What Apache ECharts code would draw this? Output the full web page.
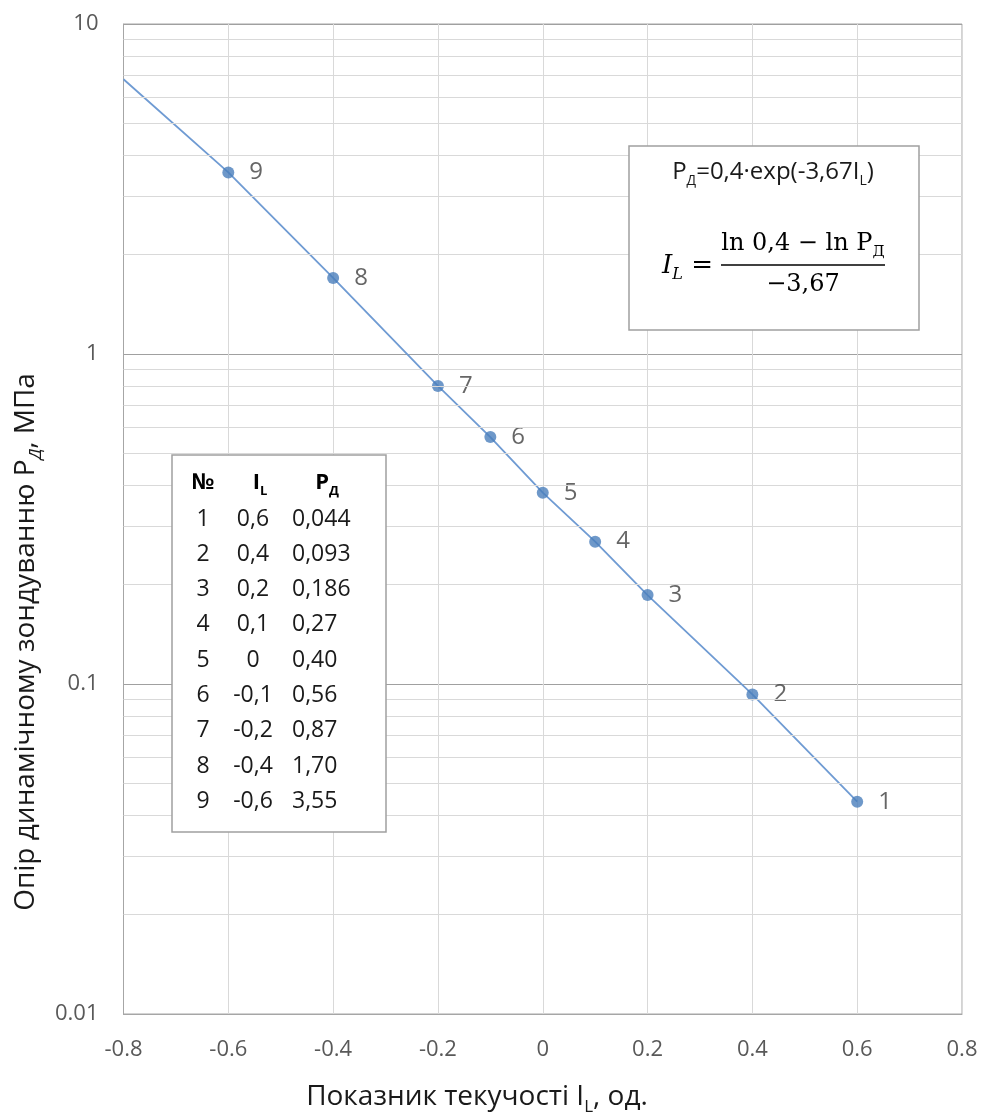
<!DOCTYPE html>
<html>
<head>
<meta charset="utf-8">
<script src="https://cdn.jsdelivr.net/npm/echarts@6/dist/echarts.min.js"></script>
<style>
  html, body { margin: 0; padding: 0; background: #fff; }
  #chart { width: 982px; height: 1113px; }
</style>
</head>
<body>
<div id="chart"></div>
<script>
// точки, як вони нанесені на графік
var il = [0.6, 0.4, 0.2, 0.1, 0, -0.1, -0.2, -0.4, -0.6]
var pd = [0.044, 0.093, 0.186, 0.27, 0.38, 0.56, 0.80, 1.70, 3.55]
var pointNo = ['1', '2', '3', '4', '5', '6', '7', '8', '9']
// початок лінії біля лівого краю
var lineStart = [-0.8, 6.8]

// таблиця у вставці (текст)
var tabNo = ['1', '2', '3', '4', '5', '6', '7', '8', '9']
var tabIL = ['0,6', '0,4', '0,2', '0,1', '0', '-0,1', '-0,2', '-0,4', '-0,6']
var tabPD = ['0,044', '0,093', '0,186', '0,27', '0,40', '0,56', '0,87', '1,70', '3,55']

var yMinor = [0.02, 0.03, 0.04, 0.05, 0.06, 0.07, 0.08, 0.09,
  0.2, 0.3, 0.4, 0.5, 0.6, 0.7, 0.8, 0.9,
  2, 3, 4, 5, 6, 7, 8, 9]

var FONT = 'Open Sans'
var SERIF = 'DejaVu Serif'
var Z = 100

var chart = echarts.init(document.getElementById('chart'))

var lineData = [lineStart].concat(il.map(function(x, i) { return [x, pd[i]] }).reverse())
var pointData = il.map(function(x, i) { return { value: [x, pd[i]], name: pointNo[i] } })

function subText(x, y, text, main, sub, align, rotation) {
  return {
    type: 'text', x: x, y: y, z: Z, rotation: rotation || 0,
    style: { text: text, align: align || 'center', verticalAlign: 'middle', rich: { a: main, s: sub } }
  }
}

// вставка з таблицею
var hdrA = { fontSize: 22, fontWeight: 'bold', fontFamily: FONT, fill: '#000', lineHeight: 30 }
var hdrS = { fontSize: 13, fontWeight: 'bold', fontFamily: FONT, fill: '#000', lineHeight: 13, verticalAlign: 'bottom' }
var tableEls = [{
  type: 'rect', z: Z,
  shape: { x: 172, y: 455, width: 214, height: 377 },
  style: { fill: '#fff', stroke: '#a0a0a0', lineWidth: 1.5 }
}, {
  type: 'text', x: 203, y: 483, z: Z,
  style: { text: '№', fontSize: 22, fontWeight: 'bold', fontFamily: FONT, fill: '#000', align: 'center', verticalAlign: 'middle' }
},
  subText(260, 483, '{a|I}{s|L}', hdrA, hdrS),
  subText(327, 483, '{a|P}{s|Д}', hdrA, hdrS)
]
tabNo.forEach(function(t, i) {
  var y = 519 + i * 35.3
  var st = { fontSize: 23, fontFamily: FONT, fill: '#1a1a1a', verticalAlign: 'middle' }
  tableEls.push({ type: 'text', z: Z, x: 203, y: y, style: Object.assign({ text: t, align: 'center' }, st) })
  tableEls.push({ type: 'text', z: Z, x: 253, y: y, style: Object.assign({ text: tabIL[i], align: 'center' }, st) })
  tableEls.push({ type: 'text', z: Z, x: 292, y: y, style: Object.assign({ text: tabPD[i], align: 'left' }, st) })
})

// вставка з формулою
var fA = { fontSize: 24, fontFamily: FONT, fill: '#1a1a1a', lineHeight: 32 }
var fS = { fontSize: 14, fontFamily: FONT, fill: '#1a1a1a', lineHeight: 14, verticalAlign: 'bottom' }
var mA = { fontSize: 24, fontFamily: SERIF, fill: '#000', lineHeight: 32 }
var mS = { fontSize: 15, fontFamily: SERIF, fill: '#000', lineHeight: 15, verticalAlign: 'bottom' }
var formulaEls = [{
  type: 'rect', z: Z,
  shape: { x: 629, y: 146, width: 290, height: 184 },
  style: { fill: '#fff', stroke: '#a0a0a0', lineWidth: 1.5 }
},
  subText(773, 172, '{a|P}{s|Д}{a|=0,4·exp(-3,67I}{s|L}{a|)}', fA, fS),
  {
    type: 'text', x: 713, y: 266, z: Z,
    style: {
      text: '{i|I}{is|L}{a| =}', align: 'right', verticalAlign: 'middle',
      rich: {
        i: { fontSize: 26, fontFamily: SERIF, fontStyle: 'italic', fill: '#000', lineHeight: 34 },
        is: { fontSize: 16, fontFamily: SERIF, fontStyle: 'italic', fill: '#000', lineHeight: 16, verticalAlign: 'bottom' },
        a: { fontSize: 26, fontFamily: SERIF, fill: '#000', lineHeight: 34 }
      }
    }
  },
  subText(803, 244, '{a|ln 0,4 − ln P}{s|Д}', mA, mS),
  {
    type: 'line', z: Z,
    shape: { x1: 721, y1: 265, x2: 885, y2: 265 },
    style: { stroke: '#000', lineWidth: 1.3 }
  }, {
    type: 'text', x: 803, y: 285, z: Z,
    style: { text: '−3,67', fontSize: 24, fontFamily: SERIF, fill: '#000', align: 'center', verticalAlign: 'middle' }
  }
]

// підписи осей
var tA = { fontSize: 28, fontFamily: FONT, fill: '#1a1a1a', lineHeight: 38 }
var tS = { fontSize: 17, fontFamily: FONT, fill: '#1a1a1a', lineHeight: 17, verticalAlign: 'bottom' }
var tSi = Object.assign({}, tS, { fontStyle: 'italic' })
var titleEls = [
  subText(477, 1097, '{a|Показник текучості I}{s|L}{a|, од.}', tA, tS),
  subText(26, 642, '{a|Опір динамічному зондуванню P}{s|Д}{a|, МПа}', tA, tSi, 'center', Math.PI / 2)
]

chart.setOption({
  backgroundColor: '#fff',
  animation: false,
  grid: {
    left: 123.5, right: 20, top: 24, bottom: 99,
    show: true, borderColor: '#a6a6a6', borderWidth: 1
  },
  xAxis: {
    type: 'value',
    min: -0.8, max: 0.8, interval: 0.2,
    axisLine: { onZero: false, lineStyle: { color: '#a6a6a6', width: 1 } },
    axisTick: { show: false },
    axisLabel: {
      margin: 25, fontSize: 22, fontFamily: FONT, color: '#595959',
      formatter: function(v) { return v === 0 ? '0' : (+v).toFixed(1) }
    },
    splitLine: { show: true, lineStyle: { color: '#d9d9d9', width: 1 } }
  },
  yAxis: {
    type: 'log', logBase: 10,
    min: 0.01, max: 10,
    axisLine: { show: true, onZero: false, lineStyle: { color: '#a6a6a6', width: 1 } },
    axisTick: { show: false },
    axisLabel: {
      margin: 25, fontSize: 22, fontFamily: FONT, color: '#595959',
      formatter: function(v) { return String(+(+v).toPrecision(1)) }
    },
    splitLine: { show: true, lineStyle: { color: '#a0a0a0', width: 1 } }
  },
  series: [{
    // дрібна сітка логарифмічної осі
    type: 'line',
    data: [],
    z: 1,
    silent: true,
    markLine: {
      silent: true,
      symbol: 'none',
      label: { show: false },
      lineStyle: { color: '#d9d9d9', width: 1, type: 'solid' },
      data: yMinor.map(function(v) { return { yAxis: v } })
    }
  }, {
    type: 'line',
    data: lineData,
    z: 3,
    showSymbol: false,
    symbol: 'none',
    lineStyle: { color: '#6f9bd3', width: 1.8 }
  }, {
    type: 'scatter',
    data: pointData,
    z: 4,
    symbol: 'circle',
    symbolSize: 12,
    itemStyle: { color: '#4a7ebb' },
    label: {
      show: true,
      position: 'right',
      distance: 15,
      formatter: function(p) { return p.name },
      fontSize: 24,
      fontFamily: FONT,
      color: '#404040'
    }
  }],
  graphic: tableEls.concat(formulaEls, titleEls)
})
</script>
</body>
</html>
